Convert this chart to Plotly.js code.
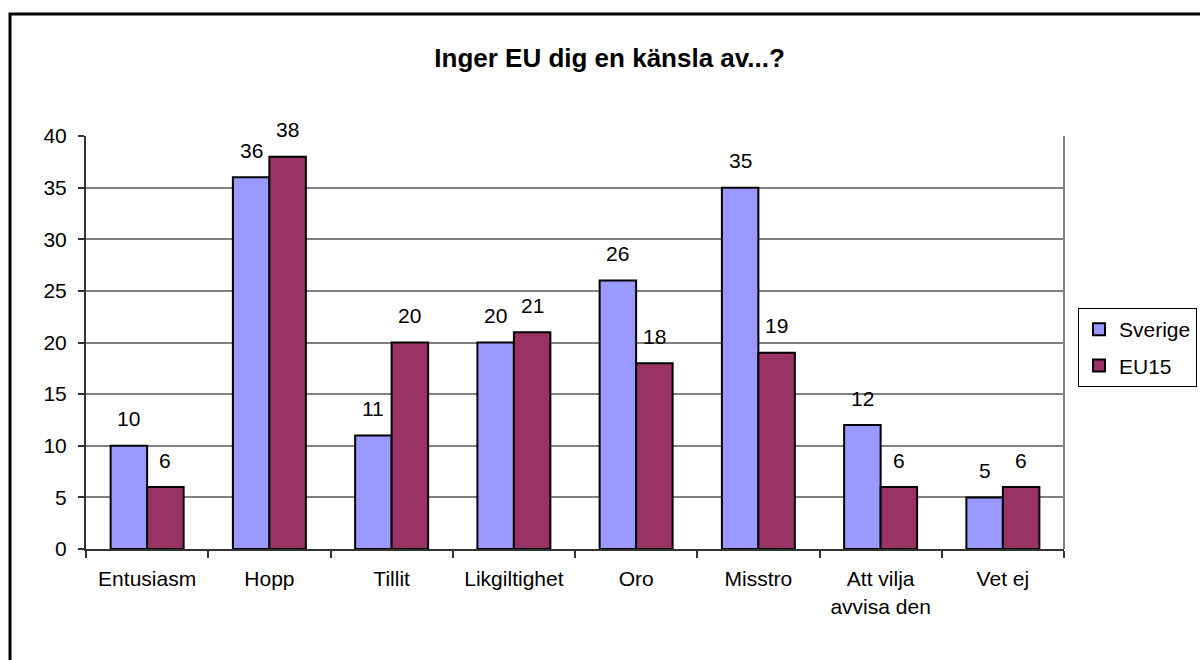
<!DOCTYPE html>
<html>
<head>
<meta charset="utf-8">
<script src="https://cdn.plot.ly/plotly-3.0.1.min.js"></script>
<style>
  body { margin: 0; background: #fff; }
  #chart { width: 1200px; height: 660px; }
</style>
</head>
<body>
<div id="chart"></div>
<script>
var categories = ['Entusiasm', 'Hopp', 'Tillit', 'Likgiltighet', 'Oro', 'Misstro', 'Att vilja<br>avvisa den', 'Vet ej'];
var sverige = [10, 36, 11, 20, 26, 35, 12, 5];
var eu15 = [6, 38, 20, 21, 18, 19, 6, 6];
var yTicks = [0, 5, 10, 15, 20, 25, 30, 35, 40];

var font = 'Liberation Sans, Arial, sans-serif';

var data = [
    {
        name: 'Sverige',
        type: 'bar',
        legendgroup: 'a',
        x: categories,
        y: sverige,
        marker: {color: '#9999FF', line: {color: '#000', width: 2}}
    },
    {
        name: 'EU15',
        type: 'bar',
        legendgroup: 'b',
        x: categories,
        y: eu15,
        marker: {color: '#993366', line: {color: '#000', width: 2}}
    }
];

// value labels above each bar
var annotations = [];
categories.forEach(function(c, i){
    annotations.push({x: c, y: sverige[i], text: String(sverige[i]), showarrow: false,
        xshift: -18.25, yshift: 27, font: {family: font, size: 21, color: '#000'}});
    annotations.push({x: c, y: eu15[i], text: String(eu15[i]), showarrow: false,
        xshift: 18.25, yshift: 27, font: {family: font, size: 21, color: '#000'}});
});

var layout = {
    width: 1200,
    height: 660,
    margin: {l: 86, r: 136, t: 136, b: 111, autoexpand: false},
    paper_bgcolor: '#fff',
    plot_bgcolor: '#fff',
    font: {family: font, size: 21, color: '#000'},
    title: {
        text: '<b>Inger EU dig en känsla av...?</b>',
        font: {family: font, size: 26, color: '#000'},
        xref: 'container', x: 0.508,
        yref: 'container', y: 0.912, yanchor: 'middle'
    },
    bargap: 0.403,
    bargroupgap: 0,
    xaxis: {
        type: 'category',
        tickson: 'boundaries',
        ticks: 'outside',
        ticklen: 7,
        tickwidth: 2,
        tickcolor: '#333',
        showline: true,
        linecolor: '#333',
        linewidth: 2,
        showgrid: false,
        ticklabelstandoff: 10,
        tickfont: {family: font, size: 21, color: '#000'}
    },
    yaxis: {
        range: [0, 40],
        tickvals: yTicks,
        ticks: 'outside',
        ticklen: 6,
        tickwidth: 2,
        tickcolor: '#333',
        showline: true,
        linecolor: '#333',
        linewidth: 2,
        showgrid: true,
        gridcolor: '#808080',
        gridwidth: 2,
        zeroline: false,
        ticklabelstandoff: 7,
        tickfont: {family: font, size: 21, color: '#000'}
    },
    legend: {
        x: 1.136, xanchor: 'right',
        y: 0.5835, yanchor: 'top',
        bordercolor: '#000',
        borderwidth: 1,
        bgcolor: '#fff',
        traceorder: 'grouped',
        tracegroupgap: 6,
        font: {family: font, size: 21, color: '#000'}
    },
    annotations: annotations,
    shapes: [
        {type: 'line', xref: 'paper', yref: 'paper', x0: 1, x1: 1, y0: 0, y1: 1,
         line: {color: '#808080', width: 2}, layer: 'below'},
        {type: 'rect', xref: 'paper', yref: 'paper', x0: -0.0777, x1: 1.3, y0: -0.4, y1: 1.2954,
         line: {color: '#000', width: 3}, fillcolor: 'rgba(0,0,0,0)'}
    ],
    showlegend: true
};

Plotly.newPlot('chart', data, layout, {displayModeBar: false, staticPlot: true});
</script>
</body>
</html>
